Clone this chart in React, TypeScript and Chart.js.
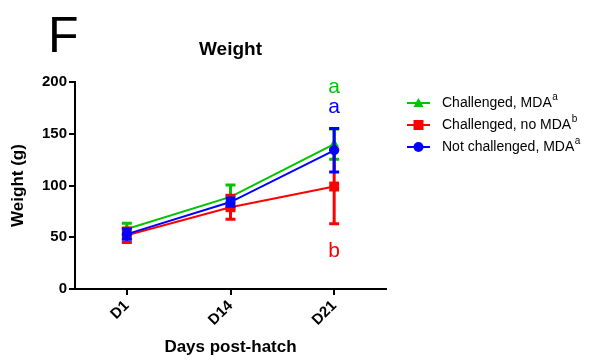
import React, { useEffect, useRef } from 'react';
import { Chart, registerables } from 'chart.js';

Chart.register(...registerables);

const categories = ['D1', 'D14', 'D21'];
const seriesLabels = ['Challenged, MDA', 'Challenged, no MDA', 'Not challenged, MDA'];
const seriesSup = ['a', 'b', 'a'];
const seriesColors = ['#00c400', '#ff0000', '#0000ff'];
const seriesMarkers = ['triangle', 'rect', 'circle'];
const greenMean = [58, 89, 140];
const greenSd = [5.5, 11.5, 14.6];
const redMean = [52, 79, 99];
const redSd = [7, 11.5, 36];
const blueMean = [53, 84, 134];
const blueSd = [5, 4, 21];
const yTicks = [0, 50, 100, 150, 200];
const letterTexts = ['a', 'a', 'b'];
const letterValues = [189, 170, 31];
const letterColors = ['#00c400', '#0000ff', '#ff0000'];
const letterCategory = 'D21';

const FONT = "'Liberation Sans', Arial, Helvetica, sans-serif";

function drawMarker(ctx: CanvasRenderingContext2D, style: string, x: number, y: number, color: string) {
  ctx.save();
  ctx.fillStyle = color;
  ctx.beginPath();
  if (style === 'triangle') {
    ctx.moveTo(x, y - 5);
    ctx.lineTo(x + 5, y + 4);
    ctx.lineTo(x - 5, y + 4);
    ctx.closePath();
  } else if (style === 'rect') {
    ctx.rect(x - 5, y - 5, 10, 10);
  } else {
    ctx.arc(x, y, 5, 0, Math.PI * 2);
  }
  ctx.fill();
  ctx.restore();
}

const errorBarPlugin = {
  id: 'errorBars',
  beforeDatasetDraw(chart: any, args: any) {
    const ds = chart.data.datasets[args.index];
    const errs: number[] = ds.errors;
    if (!errs) return;
    const ctx = chart.ctx;
    const yScale = chart.scales.y;
    ctx.save();
    ctx.strokeStyle = ds.borderColor;
    ctx.lineWidth = 3;
    args.meta.data.forEach((pt: any, i: number) => {
      const v = ds.data[i];
      const e = errs[i];
      const x = pt.x;
      const yt = yScale.getPixelForValue(v + e);
      const yb = yScale.getPixelForValue(v - e);
      ctx.beginPath();
      ctx.moveTo(x, yt);
      ctx.lineTo(x, yb);
      ctx.moveTo(x - 5, yt);
      ctx.lineTo(x + 5, yt);
      ctx.moveTo(x - 5, yb);
      ctx.lineTo(x + 5, yb);
      ctx.stroke();
    });
    ctx.restore();
  },
};

const decorPlugin = {
  id: 'decor',
  afterDraw(chart: any) {
    const ctx: CanvasRenderingContext2D = chart.ctx;
    const xScale = chart.scales.x;
    const yScale = chart.scales.y;
    ctx.save();
    // panel letter
    ctx.fillStyle = '#000';
    ctx.font = `50px ${FONT}`;
    ctx.textAlign = 'left';
    ctx.textBaseline = 'alphabetic';
    ctx.fillText('F', 48, 52);

    // significance letters
    const xi = categories.indexOf(letterCategory);
    const lx = xScale.getPixelForValue(xi);
    ctx.font = `21px ${FONT}`;
    ctx.textAlign = 'center';
    letterTexts.forEach((t, i) => {
      ctx.fillStyle = letterColors[i];
      ctx.fillText(t, lx, yScale.getPixelForValue(letterValues[i]));
    });

    // legend
    ctx.textAlign = 'left';
    ctx.textBaseline = 'middle';
    chart.data.datasets.forEach((ds: any, i: number) => {
      const y = 103 + i * 22;
      ctx.strokeStyle = ds.borderColor;
      ctx.lineWidth = 2;
      ctx.beginPath();
      ctx.moveTo(407, y);
      ctx.lineTo(430, y);
      ctx.stroke();
      drawMarker(ctx, seriesMarkers[i], 418.5, y, ds.borderColor);
      ctx.fillStyle = '#000';
      ctx.font = `14px ${FONT}`;
      ctx.fillText(ds.label, 442, y);
      const w = ctx.measureText(ds.label).width;
      ctx.font = `10px ${FONT}`;
      ctx.fillText(seriesSup[i], 442 + w + 0.5, y - 6);
    });
    ctx.restore();
  },
};

export default function App() {
  const ref = useRef<HTMLCanvasElement>(null);
  useEffect(() => {
    document.body.style.margin = '0';
    const means = [greenMean, redMean, blueMean];
    const sds = [greenSd, redSd, blueSd];
    const orders = [3, 2, 1];
    const chart = new Chart(ref.current as HTMLCanvasElement, {
      type: 'line',
      data: {
        labels: categories,
        datasets: seriesLabels.map((label, i) => ({
          label,
          data: means[i],
          errors: sds[i],
          order: orders[i],
          borderColor: seriesColors[i],
          backgroundColor: seriesColors[i],
          pointBackgroundColor: seriesColors[i],
          pointBorderColor: seriesColors[i],
          borderWidth: 2,
          pointStyle: seriesMarkers[i],
          pointRadius: seriesMarkers[i] === 'rect' ? 7 : seriesMarkers[i] === 'triangle' ? 5.5 : 5,
          pointBorderWidth: 0,
          tension: 0,
          clip: false,
        })) as any,
      },
      options: {
        animation: false,
        responsive: false,
        devicePixelRatio: 1,
        layout: { padding: { top: 0, right: 227, bottom: 0, left: 0 } },
        plugins: {
          legend: { display: false },
          tooltip: { enabled: false },
          title: {
            display: true,
            text: 'Weight',
            fullSize: false,
            color: '#000',
            font: { family: FONT, size: 19, weight: 'bold', lineHeight: 1.2 },
            padding: { top: 38, bottom: 21.2 },
          },
        },
        scales: {
          x: {
            type: 'category',
            offset: true,
            afterFit: (s: any) => { s.height = 71; },
            grid: {
              display: true,
              drawOnChartArea: false,
              drawTicks: true,
              tickLength: 6,
              color: '#000',
              lineWidth: 2,
              offset: false,
            },
            border: { display: true, color: '#000', width: 2 },
            ticks: {
              color: '#000',
              font: { family: FONT, size: 15, weight: 'bold' },
              minRotation: 45,
              maxRotation: 45,
              padding: 2,
            },
            title: {
              display: true,
              text: 'Days post-hatch',
              color: '#000',
              font: { family: FONT, size: 17, weight: 'bold' },
              padding: { top: 0, bottom: 2 },
            },
          },
          y: {
            min: 0,
            max: 200,
            afterFit: (s: any) => { s.width = 75; },
            afterBuildTicks: (s: any) => { s.ticks = yTicks.map((v) => ({ value: v })); },
            grid: {
              display: true,
              drawOnChartArea: false,
              drawTicks: true,
              tickLength: 6,
              color: '#000',
              lineWidth: 2,
            },
            border: { display: true, color: '#000', width: 2 },
            ticks: {
              color: '#000',
              font: { family: FONT, size: 15, weight: 'bold' },
              padding: 2,
            },
            title: {
              display: true,
              text: 'Weight (g)',
              color: '#000',
              font: { family: FONT, size: 17, weight: 'bold' },
              padding: { top: 8, bottom: 0 },
            },
          },
        },
      } as any,
      plugins: [errorBarPlugin, decorPlugin],
    });
    return () => chart.destroy();
  }, []);
  return (
    <div style={{ width: 613, height: 360 }}>
      <canvas ref={ref} width={613} height={360} style={{ width: 613, height: 360, display: 'block' }} />
    </div>
  );
}
